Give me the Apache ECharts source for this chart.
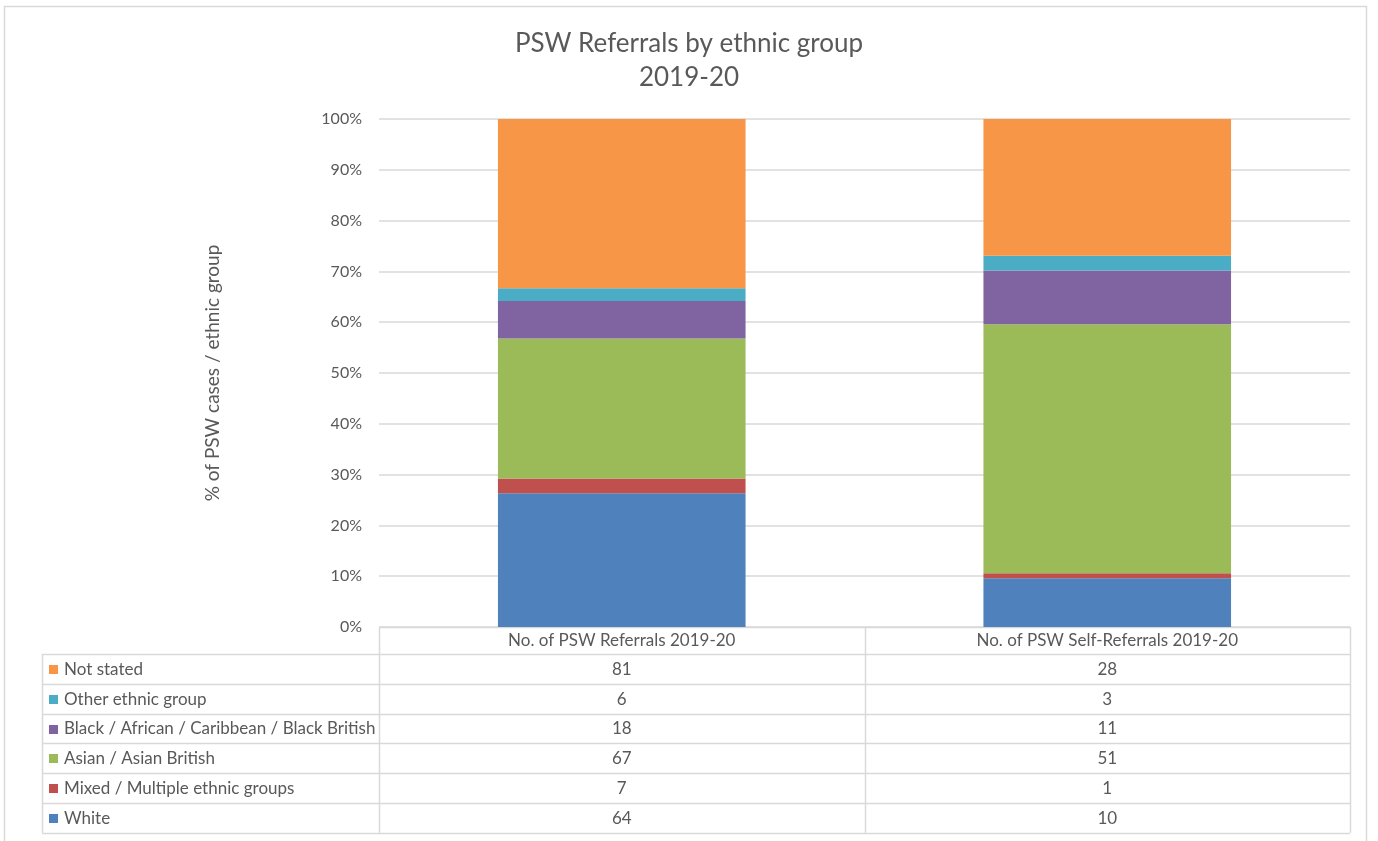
<!DOCTYPE html>
<html>
<head>
<meta charset="utf-8">
<script src="https://cdn.jsdelivr.net/npm/echarts@6/dist/echarts.min.js"></script>
<style>
  html, body { margin: 0; padding: 0; background: #fff; }
  #chart { width: 1378px; height: 841px; }
</style>
</head>
<body>
<div id="chart"></div>
<script>
// Columns of the chart / data table
const categories = ['No. of PSW Referrals 2019-20', 'No. of PSW Self-Referrals 2019-20'];

// Ethnic groups, bottom of the stack first
const groups = [
  'White',
  'Mixed / Multiple ethnic groups',
  'Asian / Asian British',
  'Black / African / Caribbean / Black British',
  'Other ethnic group',
  'Not stated'
];
const groupColors = ['#4F81BD', '#C0504D', '#9BBB59', '#8064A2', '#4BACC6', '#F79646'];

// Counts per group (same order as groups)
const referrals     = [64, 7, 67, 18, 6, 81];
const selfReferrals = [10, 1, 51, 11, 3, 28];

const yTicks = [0, 10, 20, 30, 40, 50, 60, 70, 80, 90, 100];

const counts = [referrals, selfReferrals];
const totals = counts.map(c => c.reduce((a, b) => a + b, 0));

// Plot area geometry
const W = 1378, H = 841;
const plotL = 379, plotR = 1350, plotT = 119, plotB = 627;
const tableL = 42, rowH = 29.8;
const headerTop = plotB, firstRowTop = 654;
const colX = [plotL, (plotL + plotR) / 2, plotR];
const lineColor = '#d9d9d9';
const textColor = '#595959';
const font = 'Lato, "Open Sans", sans-serif';
const tableFont = '17px ' + font;

const series = groups.map((g, gi) => ({
  name: g,
  type: 'bar',
  stack: 'total',
  barWidth: '51%',
  itemStyle: { color: groupColors[gi] },
  emphasis: { disabled: true },
  data: counts.map((c, ci) => c[gi] / totals[ci] * 100)
}));

// Data table under the plot
const graphics = [];
const crisp = v => Math.round(v) + 0.5;
function hline(x1, x2, y) {
  graphics.push({ type: 'line', silent: true,
    shape: { x1: x1, y1: crisp(y), x2: x2, y2: crisp(y) },
    style: { stroke: lineColor, lineWidth: 1.5 } });
}
function vline(x, y1, y2) {
  graphics.push({ type: 'line', silent: true,
    shape: { x1: crisp(x), y1: y1, x2: crisp(x), y2: y2 },
    style: { stroke: lineColor, lineWidth: 1.5 } });
}
const nRows = groups.length;
const tableBottom = firstRowTop + nRows * rowH;

hline(plotL, plotR, headerTop);
for (let r = 0; r <= nRows; r++) hline(tableL, plotR, firstRowTop + r * rowH);
vline(tableL, firstRowTop, tableBottom);
colX.forEach(x => vline(x, headerTop, tableBottom));

// header texts
categories.forEach((c, ci) => {
  graphics.push({ type: 'text', silent: true,
    x: (colX[ci] + colX[ci + 1]) / 2, y: (headerTop + firstRowTop) / 2,
    style: { text: c, fill: textColor, font: tableFont, align: 'center', verticalAlign: 'middle' } });
});

// rows: top row is the last group
for (let r = 0; r < nRows; r++) {
  const gi = nRows - 1 - r;
  const cy = firstRowTop + r * rowH + rowH / 2;
  graphics.push({ type: 'rect', silent: true,
    shape: { x: 49, y: Math.round(cy - 4), width: 9, height: 9 },
    style: { fill: groupColors[gi] } });
  graphics.push({ type: 'text', silent: true, x: 64, y: cy + 0.5,
    style: { text: groups[gi], fill: textColor, font: tableFont, align: 'left', verticalAlign: 'middle' } });
  counts.forEach((c, ci) => {
    graphics.push({ type: 'text', silent: true,
      x: (colX[ci] + colX[ci + 1]) / 2, y: cy + 0.5,
      style: { text: String(c[gi]), fill: textColor, font: tableFont, align: 'center', verticalAlign: 'middle' } });
  });
}

// outer chart frame
graphics.push({ type: 'rect', silent: true, z: -1,
  shape: { x: 4.5, y: 6.5, width: 1362, height: 850 },
  style: { fill: null, stroke: lineColor, lineWidth: 1.5 } });

const chart = echarts.init(document.getElementById('chart'), null, { renderer: 'canvas' });
chart.setOption({
  animation: false,
  backgroundColor: '#fff',
  title: {
    text: 'PSW Referrals by ethnic group\n2019-20',
    left: 'center',
    top: 22,
    textStyle: { color: textColor, fontFamily: font, fontSize: 26, fontWeight: 'normal', lineHeight: 34 }
  },
  grid: { left: plotL, right: W - plotR, top: plotT, bottom: H - plotB, containLabel: false },
  xAxis: {
    type: 'category',
    data: categories,
    axisLine: { show: false },
    axisTick: { show: false },
    axisLabel: { show: false }
  },
  yAxis: {
    type: 'value',
    min: 0, max: 100, interval: 10,
    name: '% of PSW cases / ethnic group',
    nameLocation: 'middle',
    nameGap: 157,
    nameTextStyle: { color: textColor, fontFamily: font, fontSize: 19 },
    axisLine: { show: false },
    axisTick: { show: false },
    axisLabel: {
      color: textColor, fontFamily: font, fontSize: 16, margin: 17,
      formatter: v => yTicks.includes(v) ? v + '%' : ''
    },
    splitLine: { lineStyle: { color: lineColor, width: 1.5 } }
  },
  series: series,
  graphic: graphics
});
</script>
</body>
</html>
